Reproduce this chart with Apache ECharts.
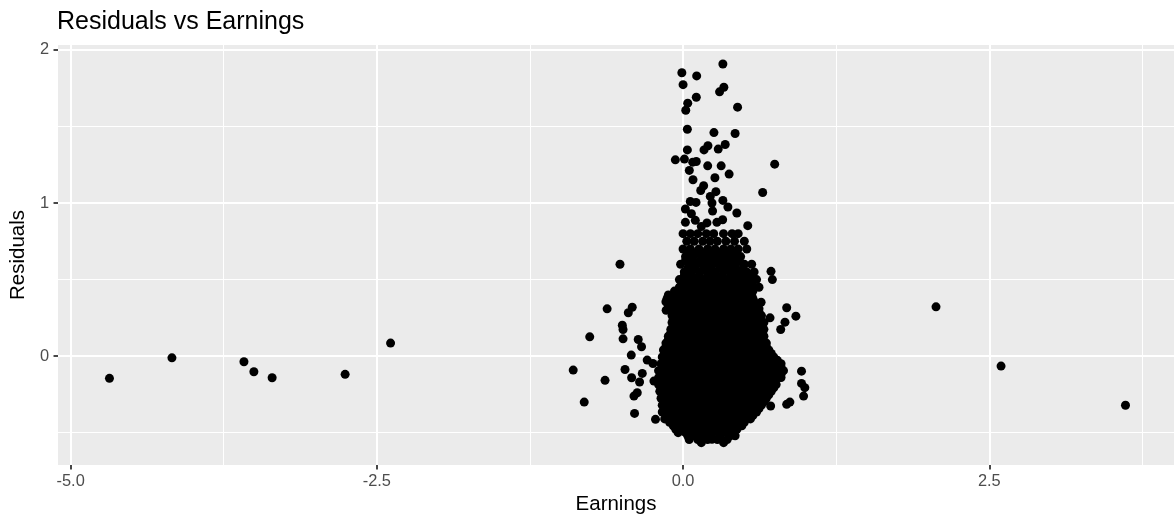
<!DOCTYPE html>
<html><head><meta charset="utf-8">
<script src="https://cdn.jsdelivr.net/npm/echarts@6/dist/echarts.min.js"></script>
<style>html,body{margin:0;padding:0;background:#fff}#chart{width:1174px;height:520px}</style>
</head><body><div id="chart"></div>
<script>
// Tick values
const xTicks = [-5, -2.5, 0, 2.5];
const xMinor = [-3.75, -1.25, 1.25, 3.75];
const yTicks = [0, 1, 2];
const yMinor = [-0.5, 0.5, 1.5];

// [Earnings, Residuals] — isolated points far from the cluster
const farPoints = [[-4.683,-0.145],[-4.173,-0.011],[-3.585,-0.037],[-3.504,-0.102],[-3.355,-0.141],[-2.759,-0.119],[-2.388,0.085],[2.065,0.322],[2.596,-0.065],[3.612,-0.321]];

// left tail of the cluster
const leftTail = [[-0.515,0.600],[-0.620,0.309],[-0.415,0.319],[-0.447,0.283],[-0.496,0.202],[-0.490,0.174],[-0.490,0.113],[-0.762,0.126],[-0.366,0.109],[-0.339,0.061],[-0.423,0.007],[-0.293,-0.026],[-0.246,-0.048],[-0.897,-0.091],[-0.474,-0.087],[-0.637,-0.158],[-0.420,-0.141],[-0.333,-0.113],[-0.355,-0.169],[-0.374,-0.239],[-0.401,-0.261],[-0.807,-0.300],[-0.396,-0.374],[-0.238,-0.163],[-0.225,-0.413],[-0.138,0.300]];

// upper tail (high residuals)
const upperTail = [[0.325,1.908],[-0.01,1.851],[0.111,1.830],[0.0,1.773],[0.333,1.756],[0.298,1.726],[0.108,1.691],[0.038,1.652],[0.022,1.606],[0.445,1.626],[0.035,1.482],[0.252,1.460],[0.425,1.454],[0.344,1.382],[0.203,1.374],[0.171,1.347],[0.287,1.352],[0.035,1.347],[-0.063,1.282],[0.011,1.287],[0.079,1.267],[0.108,1.271],[0.201,1.243],[0.311,1.243],[0.748,1.254],[0.051,1.213],[0.376,1.189],[0.260,1.165],[0.081,1.152],[0.168,1.113],[0.144,1.082],[0.650,1.069],[0.268,1.074],[0.222,1.043],[0.059,1.010],[0.106,1.004],[0.236,1.000],[0.325,1.017],[0.019,0.961],[0.241,0.948],[0.366,0.974],[0.068,0.930],[0.439,0.935],[0.323,0.891],[0.019,0.874],[0.100,0.887],[0.195,0.870],[0.276,0.874],[0.528,0.852],[0.149,0.847]];

// right edge of the cluster
const rightEdge = [[0.718,0.554],[0.729,0.50],[0.637,0.352],[0.846,0.316],[0.921,0.261],[0.832,0.222],[0.797,0.174],[0.71,0.25],[0.967,-0.098],[0.967,-0.178],[0.994,-0.206],[0.984,-0.261],[0.872,-0.30],[0.846,-0.315],[0.715,-0.326],[0.425,-0.52],[0.331,-0.565],[0.149,-0.565],[0.236,-0.543]];

// dense core: residual level of each row, and earnings of the points on that row
const coreResiduals = [0.80,0.75,0.70,0.65,0.60,0.55,0.50,0.45,0.40,0.355,0.31,0.265,0.22,0.175,0.13,0.085,0.04,-0.005,-0.05,-0.095,-0.14,-0.185,-0.23,-0.275,-0.32,-0.365,-0.41,-0.455,-0.50,-0.545];
const coreEarnings = [
 [0.00,0.06,0.12,0.19,0.25,0.33,0.40,0.45],
 [0.03,0.09,0.16,0.22,0.28,0.35,0.42,0.50],
 [0.00,0.06,0.13,0.20,0.26,0.33,0.39,0.45,0.52],
 [0.02,0.08,0.15,0.22,0.28,0.34,0.41,0.47],
 [-0.02,0.05,0.11,0.17,0.24,0.30,0.37,0.43,0.50,0.56],
 [0.01,0.07,0.14,0.20,0.26,0.33,0.39,0.46,0.52,0.58],
 [-0.03,0.04,0.10,0.16,0.23,0.29,0.35,0.42,0.48,0.54,0.60],
 [-0.03,0.02,0.07,0.13,0.19,0.26,0.32,0.38,0.45,0.51,0.57,0.62],
 [-0.12,-0.07,-0.01,0.04,0.10,0.15,0.21,0.26,0.31,0.37,0.42,0.48,0.53,0.56],
 [-0.14,-0.09,-0.04,0.02,0.07,0.13,0.18,0.23,0.29,0.34,0.40,0.45,0.51,0.56,0.58],
 [-0.10,-0.05,0.01,0.06,0.12,0.17,0.22,0.28,0.33,0.39,0.44,0.50,0.55,0.60,0.62],
 [-0.09,-0.03,0.02,0.08,0.13,0.19,0.24,0.30,0.35,0.41,0.46,0.52,0.57,0.62,0.64],
 [-0.09,-0.04,0.01,0.07,0.12,0.18,0.23,0.29,0.34,0.40,0.45,0.51,0.56,0.61,0.66],
 [-0.10,-0.05,0.01,0.06,0.12,0.17,0.23,0.28,0.33,0.39,0.44,0.50,0.55,0.61,0.66],
 [-0.12,-0.07,-0.01,0.04,0.10,0.15,0.20,0.26,0.31,0.37,0.42,0.48,0.53,0.59,0.64,0.66],
 [-0.14,-0.09,-0.03,0.02,0.08,0.13,0.19,0.24,0.29,0.35,0.40,0.46,0.51,0.57,0.62,0.68],
 [-0.16,-0.11,-0.05,0.00,0.06,0.11,0.17,0.22,0.27,0.33,0.38,0.44,0.49,0.55,0.60,0.66,0.70],
 [-0.17,-0.12,-0.06,-0.01,0.05,0.10,0.16,0.21,0.26,0.32,0.37,0.43,0.48,0.54,0.59,0.65,0.70,0.74],
 [-0.18,-0.13,-0.07,-0.02,0.04,0.09,0.15,0.20,0.25,0.31,0.36,0.42,0.47,0.53,0.58,0.64,0.69,0.75,0.80],
 [-0.20,-0.15,-0.09,-0.04,0.02,0.07,0.13,0.18,0.23,0.29,0.34,0.40,0.45,0.51,0.56,0.62,0.67,0.72,0.78,0.82],
 [-0.20,-0.14,-0.09,-0.03,0.02,0.08,0.13,0.19,0.24,0.29,0.35,0.40,0.46,0.51,0.57,0.62,0.68,0.73,0.78,0.80],
 [-0.20,-0.15,-0.09,-0.04,0.02,0.07,0.13,0.18,0.23,0.29,0.34,0.40,0.45,0.51,0.56,0.62,0.67,0.72,0.76],
 [-0.19,-0.13,-0.08,-0.02,0.03,0.09,0.14,0.19,0.25,0.30,0.36,0.41,0.47,0.52,0.58,0.63,0.68,0.72],
 [-0.18,-0.13,-0.07,-0.02,0.04,0.09,0.15,0.20,0.25,0.31,0.36,0.42,0.47,0.53,0.58,0.64,0.68],
 [-0.17,-0.11,-0.06,0.00,0.05,0.11,0.16,0.21,0.27,0.32,0.38,0.43,0.49,0.54,0.60,0.64],
 [-0.17,-0.12,-0.06,-0.01,0.05,0.10,0.16,0.21,0.26,0.32,0.37,0.43,0.48,0.54,0.60],
 [-0.15,-0.10,-0.04,0.01,0.07,0.12,0.18,0.23,0.28,0.34,0.39,0.45,0.50,0.55],
 [-0.08,-0.03,0.03,0.08,0.14,0.19,0.24,0.30,0.35,0.41,0.46,0.48],
 [-0.04,0.02,0.07,0.13,0.18,0.24,0.29,0.35,0.40],
 [0.05,0.12,0.20,0.28,0.36]
];
// more core points lying between the rows above
const coreFillResiduals = [0.675,0.625,0.575,0.525,0.475,0.425,0.3775,0.3325,0.2875,0.2425,0.1975,0.1525,0.1075,0.0625,0.0175,-0.0275,-0.0725,-0.1175,-0.1625,-0.2075,-0.2525,-0.2975,-0.3425,-0.3875,-0.4325,-0.4775,-0.5225];
const coreFillEarnings = [
 [0.04,0.10,0.17,0.23,0.30,0.36,0.42],
 [0.02,0.08,0.14,0.20,0.27,0.33,0.39,0.45],
 [0.04,0.10,0.17,0.23,0.30,0.36,0.42,0.49],
 [0.01,0.07,0.13,0.20,0.26,0.32,0.39,0.45,0.51,0.57],
 [-0.01,0.05,0.12,0.18,0.24,0.31,0.37,0.43,0.50,0.56],
 [-0.07,-0.01,0.05,0.10,0.16,0.22,0.28,0.34,0.40,0.46,0.52,0.57],
 [-0.13,-0.08,-0.02,0.03,0.09,0.14,0.20,0.25,0.31,0.36,0.42,0.47,0.53,0.57],
 [-0.12,-0.07,-0.01,0.04,0.10,0.15,0.21,0.26,0.32,0.37,0.43,0.48,0.54,0.59],
 [-0.09,-0.04,0.02,0.07,0.13,0.18,0.24,0.29,0.35,0.40,0.46,0.51,0.57,0.62],
 [-0.08,-0.03,0.03,0.08,0.14,0.19,0.25,0.30,0.36,0.41,0.47,0.52,0.58,0.63],
 [-0.08,-0.02,0.03,0.09,0.14,0.20,0.25,0.31,0.36,0.42,0.47,0.53,0.58,0.64],
 [-0.10,-0.04,0.01,0.07,0.12,0.18,0.23,0.29,0.34,0.40,0.45,0.51,0.56,0.62,0.65],
 [-0.12,-0.06,-0.01,0.05,0.10,0.16,0.21,0.27,0.32,0.38,0.43,0.49,0.54,0.60,0.65],
 [-0.14,-0.08,-0.03,0.03,0.08,0.14,0.19,0.25,0.30,0.36,0.41,0.47,0.52,0.58,0.63,0.68],
 [-0.15,-0.09,-0.04,0.02,0.07,0.13,0.18,0.24,0.29,0.35,0.40,0.46,0.51,0.57,0.62,0.68,0.72],
 [-0.16,-0.10,-0.04,0.01,0.07,0.12,0.18,0.23,0.29,0.34,0.40,0.45,0.51,0.56,0.62,0.67,0.72,0.77],
 [-0.17,-0.11,-0.06,0.00,0.05,0.11,0.16,0.22,0.27,0.33,0.38,0.44,0.49,0.55,0.60,0.66,0.71,0.76,0.80],
 [-0.18,-0.12,-0.07,-0.01,0.04,0.10,0.15,0.21,0.26,0.32,0.37,0.43,0.48,0.54,0.59,0.65,0.70,0.75,0.80],
 [-0.18,-0.12,-0.07,-0.01,0.04,0.10,0.15,0.21,0.26,0.32,0.37,0.43,0.48,0.54,0.59,0.65,0.70,0.75],
 [-0.18,-0.12,-0.07,-0.01,0.04,0.10,0.15,0.21,0.26,0.32,0.37,0.43,0.48,0.54,0.59,0.65,0.70,0.74],
 [-0.17,-0.11,-0.06,0.00,0.05,0.11,0.16,0.22,0.27,0.33,0.38,0.44,0.49,0.55,0.60,0.66,0.70],
 [-0.16,-0.10,-0.05,0.01,0.06,0.12,0.17,0.23,0.28,0.34,0.39,0.45,0.50,0.56,0.61,0.66],
 [-0.15,-0.09,-0.04,0.02,0.07,0.13,0.18,0.24,0.29,0.35,0.40,0.46,0.51,0.57,0.62],
 [-0.14,-0.08,-0.03,0.03,0.08,0.14,0.19,0.25,0.30,0.36,0.41,0.47,0.52,0.57],
 [-0.11,-0.05,0.00,0.06,0.11,0.17,0.22,0.28,0.33,0.39,0.44,0.50],
 [-0.06,0.00,0.05,0.11,0.16,0.22,0.27,0.33,0.38,0.44],
 [0.04,0.10,0.16,0.22,0.30,0.38]
];

const points = [].concat(farPoints, leftTail, upperTail, rightEdge);
coreResiduals.forEach((r, i) => coreEarnings[i].forEach(e => points.push([e, r])));
coreFillResiduals.forEach((r, i) => coreFillEarnings[i].forEach(e => points.push([e, r])));

const FONT = '"Liberation Sans", Arial, Helvetica, sans-serif';
const chart = echarts.init(document.getElementById('chart'), null, {renderer: 'canvas'});
const gridLines = [].concat(
  xMinor.map(v => ({xAxis: v, lineStyle: {width: 1}})),
  yMinor.map(v => ({yAxis: v, lineStyle: {width: 1}})),
  xTicks.map(v => ({xAxis: v, lineStyle: {width: 2}})),
  yTicks.map(v => ({yAxis: v, lineStyle: {width: 2}}))
);
const axisCommon = {
  type: 'value',
  nameLocation: 'middle',
  nameTextStyle: {fontFamily: FONT, fontSize: 20.5, color: '#000'},
  axisLine: {show: true, onZero: false, lineStyle: {color: 'rgba(0,0,0,0)', width: 0}},
  splitLine: {show: false},
  minorSplitLine: {show: false}
};
chart.setOption({
  animation: false,
  title: {text: 'Residuals vs Earnings', left: 52, top: 5,
    textStyle: {fontFamily: FONT, fontSize: 25, fontWeight: 'normal', color: '#000'}},
  grid: {left: 53, right: 0, top: 45, bottom: 54, show: true, backgroundColor: '#EBEBEB', borderWidth: 0},
  xAxis: Object.assign({}, axisCommon, {
    min: -5.103, max: 4.008, name: 'Earnings', nameGap: 29,
    axisTick: {show: true, inside: false, customValues: xTicks, length: 4.5, lineStyle: {color: '#333333', width: 1.8}},
    axisLabel: {customValues: xTicks, formatter: v => Number(v).toFixed(1), margin: 8,
      color: '#4D4D4D', fontSize: 16.4, fontFamily: FONT}
  }),
  yAxis: Object.assign({}, axisCommon, {
    min: -0.711, max: 2.032, name: 'Residuals', nameGap: 24,
    axisTick: {show: true, inside: false, customValues: yTicks, length: 4.5, lineStyle: {color: '#333333', width: 1.8}},
    axisLabel: {customValues: yTicks, formatter: v => String(Math.round(v)), margin: 9,
      color: '#4D4D4D', fontSize: 16.4, fontFamily: FONT}
  }),
  series: [
    {type: 'scatter', data: [[0, 0]], symbolSize: 0, silent: true, z: 1,
      markLine: {silent: true, z: 1, symbol: ['none', 'none'], label: {show: false},
        lineStyle: {color: '#ffffff', type: 'solid'}, emphasis: {disabled: true}, data: gridLines}},
    {type: 'scatter', data: points, symbolSize: 9, itemStyle: {color: '#000', opacity: 1},
      silent: true, z: 10, progressive: 0}
  ]
});
</script></body></html>
